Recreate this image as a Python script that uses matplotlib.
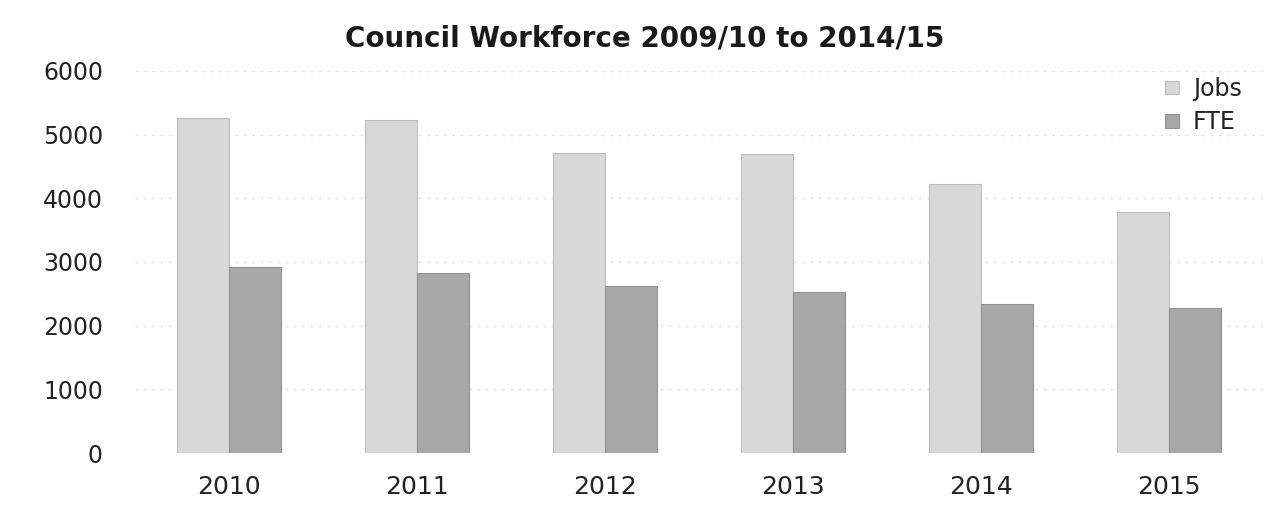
import matplotlib
matplotlib.use("Agg")
import matplotlib.pyplot as plt
import numpy as np

years = ["2010", "2011", "2012", "2013", "2014", "2015"]
jobs = [5255, 5230, 4715, 4695, 4225, 3780]
fte = [2915, 2830, 2625, 2525, 2335, 2280]

fig = plt.figure(figsize=(12.85, 5.07), dpi=100)
ax = fig.add_axes([0.105, 0.1065, 0.878, 0.7535])

x = np.arange(len(years))
w = 0.277
ax.bar(x - w / 2, jobs, w, color="#d7d8d7", edgecolor="#bcbebc", linewidth=0.8, label="Jobs", zorder=2)
ax.bar(x + w / 2, fte, w, color="#a6a9a7", edgecolor="#909391", linewidth=0.8, label="FTE", zorder=2)

ax.set_xlim(-0.5, len(years) - 0.5)
ax.set_ylim(0, 6000)
ax.set_yticks(range(0, 6001, 1000))
ax.set_xticks(x)
ax.set_xticklabels(years, fontsize=18, color="#222222")
ax.tick_params(axis="y", labelsize=17, labelcolor="#222222", pad=23)
ax.tick_params(axis="x", pad=16)
ax.tick_params(length=0)
for s in ax.spines.values():
    s.set_visible(False)
ax.yaxis.grid(True, color="#e4e4e4", linestyle=(0, (2, 4)), linewidth=1, zorder=0)

fig.text(0.502, 0.925, "Council Workforce 2009/10 to 2014/15", ha="center", va="center",
         fontsize=20, fontweight="bold", color="#1a1a1a")

leg = ax.legend(loc="upper right", bbox_to_anchor=(1.0, 1.04), frameon=False, fontsize=17,
                handlelength=0.6, handleheight=0.5, handletextpad=0.6, labelspacing=0.4)
for t in leg.get_texts():
    t.set_color("#222222")

fig.savefig("out.png", dpi=100)
